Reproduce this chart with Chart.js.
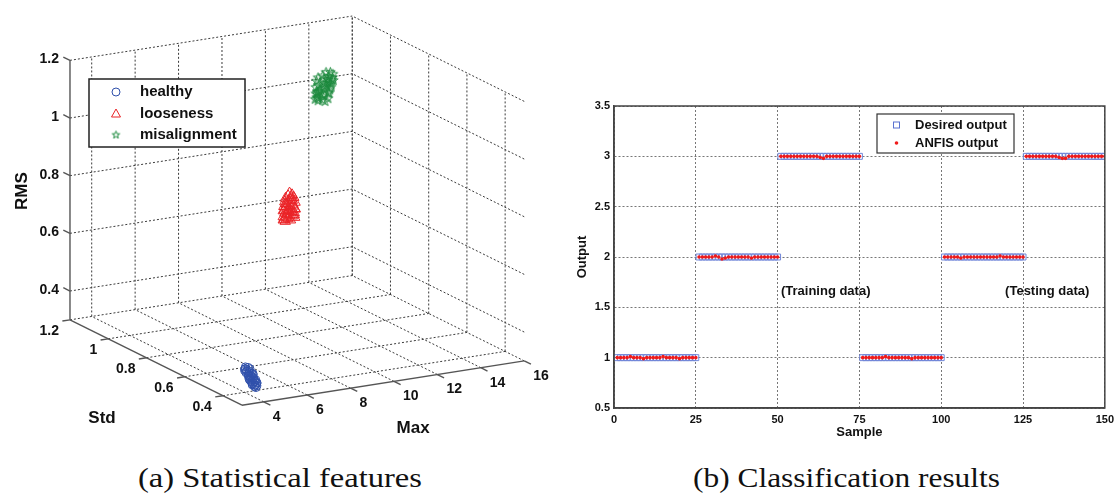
<!DOCTYPE html>
<html>
<head>
<meta charset="utf-8">
<script src="https://cdn.jsdelivr.net/npm/chart.js@4.4.1/dist/chart.umd.min.js"></script>
<style>
body { margin: 0; background: #fff; width: 1119px; height: 496px; position: relative; overflow: hidden; }
#featChart { position: absolute; left: 0; top: 0; }
#resChart { position: absolute; left: 560px; top: 90px; }
.cap { position: absolute; top: 464px; font-family: 'Liberation Serif', serif; font-size: 28px; line-height: 28px; white-space: nowrap; color: #111; transform-origin: 0 0; }
</style>
</head>
<body>
<canvas id="featChart" width="560" height="460"></canvas>
<canvas id="resChart" width="559" height="370"></canvas>
<div class="cap" id="capA" data-center="280" data-width="284">(a) Statistical features</div>
<div class="cap" id="capB" data-center="846" data-width="307">(b) Classification results</div>
<script>
// ---- (a) statistical features: Max / Std / RMS per class ----
const healthyMax = [3.95, 4.05, 3.88, 4.10, 3.92, 4.02, 3.85, 3.98, 4.08, 3.90, 4.12, 3.87, 4.00, 3.94, 4.06, 3.84, 3.97, 4.11, 3.89, 4.03,
                    3.93, 4.09, 3.86, 3.99, 4.04, 3.91, 3.96, 3.83, 4.13, 3.88, 4.07, 3.95, 3.90, 4.01, 3.86, 4.10, 3.98, 3.92, 4.05, 3.87];
const healthyStd = [0.390, 0.387, 0.385, 0.383, 0.380, 0.378, 0.376, 0.374, 0.372, 0.370, 0.368, 0.366, 0.364, 0.362, 0.360, 0.358, 0.356, 0.354, 0.352, 0.350,
                    0.348, 0.346, 0.344, 0.342, 0.340, 0.338, 0.336, 0.381, 0.371, 0.361, 0.351, 0.341, 0.386, 0.366, 0.356, 0.346, 0.375, 0.365, 0.355, 0.345];
const healthyRms = [0.392, 0.390, 0.387, 0.386, 0.382, 0.381, 0.378, 0.377, 0.374, 0.373, 0.370, 0.369, 0.366, 0.365, 0.362, 0.361, 0.358, 0.357, 0.354, 0.353,
                    0.350, 0.349, 0.346, 0.345, 0.342, 0.341, 0.338, 0.384, 0.373, 0.364, 0.353, 0.344, 0.388, 0.369, 0.358, 0.349, 0.377, 0.368, 0.357, 0.348];

const loosenessMax = [9.15, 9.05, 9.30, 8.95, 9.25, 9.40, 8.88, 9.12, 9.35, 8.98, 9.45, 8.82, 9.20, 8.92, 9.38, 8.80, 9.10, 9.48, 8.90, 9.28,
                      9.02, 9.42, 8.78, 9.18, 8.95, 9.32, 8.85, 9.08, 9.45, 8.90, 9.22, 9.50, 8.84, 9.36, 8.94, 9.00, 9.44, 8.80, 9.24, 9.06];
const loosenessStd = [0.750, 0.746, 0.754, 0.748, 0.752, 0.756, 0.744, 0.751, 0.758, 0.747, 0.755, 0.742, 0.753, 0.745, 0.757, 0.743, 0.749, 0.759, 0.746, 0.754,
                      0.748, 0.756, 0.741, 0.752, 0.745, 0.755, 0.743, 0.750, 0.757, 0.744, 0.753, 0.760, 0.742, 0.756, 0.747, 0.749, 0.758, 0.743, 0.752, 0.746];
const loosenessRms = [0.815, 0.808, 0.806, 0.800, 0.798, 0.795, 0.790, 0.788, 0.785, 0.780, 0.778, 0.775, 0.770, 0.768, 0.765, 0.760, 0.758, 0.755, 0.750, 0.748,
                      0.745, 0.742, 0.740, 0.737, 0.735, 0.732, 0.730, 0.727, 0.725, 0.722, 0.720, 0.752, 0.762, 0.772, 0.782, 0.744, 0.734, 0.728, 0.792, 0.756];

const misalignMax = [13.35, 13.60, 13.15, 13.70, 13.45, 13.05, 13.62, 13.28, 13.52, 13.00, 13.68, 13.22, 13.48, 12.98, 13.58, 13.18, 13.40, 12.95, 13.55, 13.10,
                     13.32, 12.92, 13.50, 13.08, 13.38, 12.90, 13.45, 13.02, 13.30, 12.88, 13.22, 12.98, 13.35, 12.90, 13.15, 13.00, 13.25, 13.42, 13.65, 12.95];
const misalignStd = [1.036, 1.042, 1.030, 1.040, 1.034, 1.044, 1.032, 1.038, 1.028, 1.046, 1.036, 1.030, 1.040, 1.034, 1.042, 1.028, 1.038, 1.044, 1.032, 1.036,
                     1.040, 1.030, 1.034, 1.042, 1.028, 1.038, 1.032, 1.044, 1.036, 1.030, 1.040, 1.034, 1.026, 1.042, 1.032, 1.038, 1.030, 1.036, 1.044, 1.034];
const misalignRms = [1.090, 1.085, 1.082, 1.078, 1.075, 1.072, 1.070, 1.066, 1.062, 1.060, 1.058, 1.055, 1.052, 1.050, 1.048, 1.045, 1.042, 1.040, 1.038, 1.035,
                     1.032, 1.030, 1.028, 1.025, 1.022, 1.020, 1.018, 1.015, 1.012, 1.010, 1.008, 1.005, 1.002, 1.000, 0.998, 0.995, 0.992, 1.064, 1.044, 1.026];

const maxTicks = [4, 6, 8, 10, 12, 14, 16];
const stdTicks = [0.4, 0.6, 0.8, 1, 1.2];
const rmsTicks = [0.4, 0.6, 0.8, 1, 1.2];

// ---- (b) classification results ----
const desiredOutput = [
  1,1,1,1,1,1,1,1,1,1,1,1,1,1,1,1,1,1,1,1,1,1,1,1,1,
  2,2,2,2,2,2,2,2,2,2,2,2,2,2,2,2,2,2,2,2,2,2,2,2,2,
  3,3,3,3,3,3,3,3,3,3,3,3,3,3,3,3,3,3,3,3,3,3,3,3,3,
  1,1,1,1,1,1,1,1,1,1,1,1,1,1,1,1,1,1,1,1,1,1,1,1,1,
  2,2,2,2,2,2,2,2,2,2,2,2,2,2,2,2,2,2,2,2,2,2,2,2,2,
  3,3,3,3,3,3,3,3,3,3,3,3,3,3,3,3,3,3,3,3,3,3,3,3,3
];
const anfisOutput = [
  1.00,1.00,1.00,1.00,1.01,1.00,1.00,1.00,0.99,1.00,1.00,1.00,1.00,1.00,1.01,1.00,1.00,1.00,1.00,0.99,1.00,1.00,1.00,1.00,1.00,
  2.00,2.00,2.00,2.00,2.00,2.01,2.00,1.98,1.99,2.00,2.00,2.00,2.00,2.00,2.00,2.00,1.99,2.00,2.00,2.00,2.00,2.00,2.00,2.00,2.00,
  3.00,3.00,3.00,3.00,3.00,3.00,3.00,3.00,3.00,3.00,3.00,3.00,2.99,2.98,3.00,3.00,3.00,3.00,3.00,3.00,3.00,3.00,3.00,3.00,3.00,
  1.00,1.00,1.00,1.00,1.00,1.00,1.00,1.01,1.00,1.00,1.00,1.00,1.00,1.00,1.00,0.99,1.00,1.00,1.00,1.00,1.00,1.00,1.00,1.00,1.00,
  2.00,2.00,2.00,2.00,2.00,1.99,2.00,2.00,2.00,2.00,2.00,2.00,2.00,2.00,2.00,2.00,2.00,2.01,2.00,2.00,2.00,2.00,2.00,2.00,2.00,
  3.00,3.00,3.00,3.00,3.00,3.00,3.00,3.00,3.00,3.00,2.99,2.98,2.98,3.00,3.00,3.00,3.00,3.00,3.00,3.00,3.00,3.00,3.00,3.00,3.00
];
const sampleTicks = [0, 25, 50, 75, 100, 125, 150];
const outputTicks = [0.5, 1, 1.5, 2, 2.5, 3, 3.5];

// ---------- 3D view (orthographic projection onto the canvas plane) ----------
const lim = { max: [3, 16], std: [0.3, 1.2], rms: [0.3, 1.2] };
const view = { ox: 241, oy: 410.7, maxX: 22.27, maxY: -3.515, stdX: -196, stdY: -97.8, rmsY: -297.4 };

function proj(m, s, r) {
    const dm = m - lim.max[0], ds = s - lim.std[0], dr = r - lim.rms[0];
    return {
        x: view.ox + dm * view.maxX + ds * view.stdX,
        y: view.oy + dm * view.maxY + ds * view.stdY + dr * view.rmsY
    };
}

function lineSet(a, b, color, width, dash, order) {
    return {
        data: [a, b], showLine: true, pointRadius: 0, borderColor: color,
        borderWidth: width, borderDash: dash, order: order, fill: false
    };
}

const [m0, m1] = lim.max, [s0, s1] = lim.std, [r0, r1] = lim.rms;
const gridSets = [];
const dotted = (a, b) => gridSets.push(lineSet(a, b, '#3a3a3a', 1, [2, 2], 3));
maxTicks.forEach(m => { dotted(proj(m, s1, r0), proj(m, s1, r1)); dotted(proj(m, s0, r0), proj(m, s1, r0)); });
rmsTicks.forEach(r => { dotted(proj(m0, s1, r), proj(m1, s1, r)); dotted(proj(m1, s0, r), proj(m1, s1, r)); });
stdTicks.forEach(s => { dotted(proj(m1, s, r0), proj(m1, s, r1)); dotted(proj(m0, s, r0), proj(m1, s, r0)); });

const axisSets = [];
const solid = (a, b) => axisSets.push(lineSet(a, b, '#555', 1.4, [], 2));
solid(proj(m0, s1, r0), proj(m0, s1, r1));
solid(proj(m0, s0, r0), proj(m0, s1, r0));
solid(proj(m0, s0, r0), proj(m1, s0, r0));
rmsTicks.forEach(r => solid(proj(m0, s1, r), proj(m0, s1 + 0.035, r)));
stdTicks.forEach(s => solid(proj(m0, s, r0), proj(m0 - 0.35, s, r0)));
maxTicks.forEach(m => solid(proj(m, s0, r0), proj(m, s0 - 0.035, r0)));

function cloud(ms, ss, rs) { return ms.map((m, i) => proj(m, ss[i], rs[i])); }

// pentagram marker like MATLAB 'p'
function makeStar(color, R) {
    const c = document.createElement('canvas');
    const n = Math.ceil(R * 2 + 3);
    c.width = n; c.height = n;
    const g = c.getContext('2d');
    g.strokeStyle = color; g.lineWidth = 1;
    g.beginPath();
    for (let k = 0; k < 10; k++) {
        const rad = k % 2 === 0 ? R : R * 0.4;
        const a = -Math.PI / 2 + k * Math.PI / 5;
        const px = n / 2 + rad * Math.cos(a), py = n / 2 + rad * Math.sin(a);
        k === 0 ? g.moveTo(px, py) : g.lineTo(px, py);
    }
    g.closePath(); g.stroke();
    return c;
}
const blue = '#2f50ab', red = '#ea2327', green = '#1d8a3e';
const starImg = makeStar(green, 5);
const starLegend = makeStar(green, 4);

const featLabels = {
    id: 'featLabels',
    afterDraw(chart) {
        const ctx = chart.ctx, sx = chart.scales.x, sy = chart.scales.y;
        const P = p => ({ x: sx.getPixelForValue(p.x), y: sy.getPixelForValue(p.y) });
        ctx.save();
        ctx.fillStyle = '#111';
        ctx.font = 'bold 14px "Liberation Sans", Arial, sans-serif';
        ctx.textBaseline = 'middle';
        ctx.textAlign = 'right';
        rmsTicks.forEach(r => { const p = P(proj(m0, s1, r)); ctx.fillText(String(r), p.x - 11, p.y - 1); });
        stdTicks.forEach(s => { const p = P(proj(m0, s, r0)); ctx.fillText(String(s), p.x - 11, p.y + 11); });
        ctx.textAlign = 'left';
        maxTicks.forEach(m => { const p = P(proj(m, s0, r0)); ctx.fillText(String(m), p.x + 9, p.y + 15); });

        ctx.font = 'bold 17px "Liberation Sans", Arial, sans-serif';
        ctx.textAlign = 'center';
        let p = P(proj(m0, s1, (r0 + r1) / 2));
        ctx.save(); ctx.translate(p.x - 48, p.y + 1); ctx.rotate(-Math.PI / 2); ctx.fillText('RMS', 0, 0); ctx.restore();
        p = P(proj(m0, (s0 + s1) / 2, r0));
        ctx.fillText('Std', p.x - 54, p.y + 56);
        p = P(proj((m0 + m1) / 2, s0, r0));
        ctx.fillText('Max', p.x + 30, p.y + 45);

        // legend
        const bx = 89, by = 79, bw = 156, bh = 68;
        ctx.fillStyle = '#fff'; ctx.fillRect(bx, by, bw, bh);
        ctx.strokeStyle = '#222'; ctx.lineWidth = 1.5; ctx.strokeRect(bx, by, bw, bh);
        const rows = [['healthy', 92], ['looseness', 114], ['misalignment', 135]];
        ctx.lineWidth = 1;
        ctx.strokeStyle = blue; ctx.beginPath(); ctx.arc(116, rows[0][1], 4, 0, Math.PI * 2); ctx.stroke();
        ctx.strokeStyle = red; ctx.beginPath();
        ctx.moveTo(116, rows[1][1] - 5); ctx.lineTo(120.5, rows[1][1] + 3); ctx.lineTo(111.5, rows[1][1] + 3); ctx.closePath(); ctx.stroke();
        ctx.drawImage(starLegend, 116 - starLegend.width / 2, rows[2][1] - starLegend.height / 2);
        ctx.fillStyle = '#111';
        ctx.font = 'bold 15px "Liberation Sans", Arial, sans-serif';
        ctx.textAlign = 'left'; ctx.textBaseline = 'middle';
        rows.forEach(([t, y]) => ctx.fillText(t, 140, y));
        ctx.restore();
    }
};

new Chart(document.getElementById('featChart'), {
    type: 'scatter',
    data: {
        datasets: [
            { label: 'healthy', data: cloud(healthyMax, healthyStd, healthyRms), pointStyle: 'circle', pointRadius: 4, borderColor: blue, backgroundColor: 'transparent', borderWidth: 1, order: 0 },
            { label: 'looseness', data: cloud(loosenessMax, loosenessStd, loosenessRms), pointStyle: 'triangle', pointRadius: 6, borderColor: red, backgroundColor: 'transparent', borderWidth: 1, order: 0 },
            { label: 'misalignment', data: cloud(misalignMax, misalignStd, misalignRms), pointStyle: starImg, pointRadius: 5, borderColor: green, order: 0 },
            ...axisSets,
            ...gridSets
        ]
    },
    options: {
        responsive: false,
        animation: false,
        layout: { padding: 0 },
        plugins: { legend: { display: false }, tooltip: { enabled: false } },
        scales: {
            x: { type: 'linear', min: 0, max: 560, display: false },
            y: { type: 'linear', min: 0, max: 460, reverse: true, display: false }
        }
    },
    plugins: [featLabels]
});

// ---------- (b) ANFIS results ----------
const tickFont = { family: '"Liberation Sans", Arial, sans-serif', size: 11, weight: 'bold' };
const titleFont = { family: '"Liberation Sans", Arial, sans-serif', size: 13, weight: 'bold' };

const resExtras = {
    id: 'resExtras',
    afterDraw(chart) {
        const ctx = chart.ctx, a = chart.chartArea, sx = chart.scales.x, sy = chart.scales.y;
        ctx.save();
        ctx.strokeStyle = '#444'; ctx.lineWidth = 1.5;
        ctx.strokeRect(a.left, a.top, a.right - a.left, a.bottom - a.top);

        ctx.fillStyle = '#111';
        ctx.font = 'bold 13px "Liberation Sans", Arial, sans-serif';
        ctx.textAlign = 'center'; ctx.textBaseline = 'middle';
        ctx.fillText('(Training data)', sx.getPixelForValue(64.7), sy.getPixelForValue(1.66));
        ctx.fillText('(Testing data)', sx.getPixelForValue(132.4), sy.getPixelForValue(1.66));

        // legend box
        const bx = a.left + 263, by = a.top + 8, bw = 137, bh = 39;
        ctx.fillStyle = '#fff'; ctx.fillRect(bx, by, bw, bh);
        ctx.strokeStyle = '#333'; ctx.lineWidth = 1.2; ctx.strokeRect(bx, by, bw, bh);
        ctx.strokeStyle = '#5a72d0'; ctx.lineWidth = 1;
        ctx.strokeRect(bx + 16.5, by + 8, 6, 6);
        ctx.fillStyle = '#f01a1a';
        ctx.beginPath(); ctx.arc(bx + 19.5, by + 29, 1.8, 0, Math.PI * 2); ctx.fill();
        ctx.fillStyle = '#111'; ctx.textAlign = 'left';
        ctx.fillText('Desired output', bx + 38, by + 11.5);
        ctx.fillText('ANFIS output', bx + 38, by + 29.5);
        ctx.restore();
    }
};

new Chart(document.getElementById('resChart'), {
    type: 'scatter',
    data: {
        datasets: [
            { label: 'ANFIS output', data: anfisOutput.map((v, i) => ({ x: i + 1, y: v })), pointStyle: 'circle', pointRadius: 1.8, backgroundColor: '#f01a1a', borderWidth: 0, order: 0 },
            { label: 'Desired output', data: desiredOutput.map((v, i) => ({ x: i + 1, y: v })), pointStyle: 'rect', pointRadius: 4.2, borderColor: '#7186d8', backgroundColor: 'transparent', borderWidth: 1, order: 1 }
        ]
    },
    options: {
        responsive: false,
        animation: false,
        layout: { padding: { top: 16, right: 11, bottom: 20, left: 15 } },
        plugins: { legend: { display: false }, tooltip: { enabled: false } },
        scales: {
            x: {
                type: 'linear', min: 0, max: 150,
                afterBuildTicks: s => { s.ticks = sampleTicks.map(v => ({ value: v })); },
                ticks: { font: tickFont, color: '#111', padding: 5, maxRotation: 0, callback: v => String(v) },
                grid: { color: '#777', lineWidth: 1, drawTicks: false },
                border: { color: '#444', width: 1.5, dash: [2, 2] },
                title: { display: true, text: 'Sample', font: titleFont, color: '#111', padding: 0 },
                afterFit: s => { s.height = 32; }
            },
            y: {
                type: 'linear', min: 0.5, max: 3.5,
                afterBuildTicks: s => { s.ticks = outputTicks.map(v => ({ value: v })); },
                ticks: { font: tickFont, color: '#111', padding: 4, callback: v => String(v) },
                grid: { color: '#777', lineWidth: 1, drawTicks: false },
                border: { color: '#444', width: 1.5, dash: [2, 2] },
                title: { display: true, text: 'Output', font: titleFont, color: '#111', padding: 0 },
                afterFit: s => { s.width = 39; }
            }
        }
    },
    plugins: [resExtras]
});

// fit the serif captions to the width they take in the figure
document.querySelectorAll('.cap').forEach(el => {
    const w = el.getBoundingClientRect().width;
    const k = Number(el.dataset.width) / w;
    el.style.left = (Number(el.dataset.center) - Number(el.dataset.width) / 2) + 'px';
    el.style.transform = 'scaleX(' + k + ')';
});
</script>
</body>
</html>
